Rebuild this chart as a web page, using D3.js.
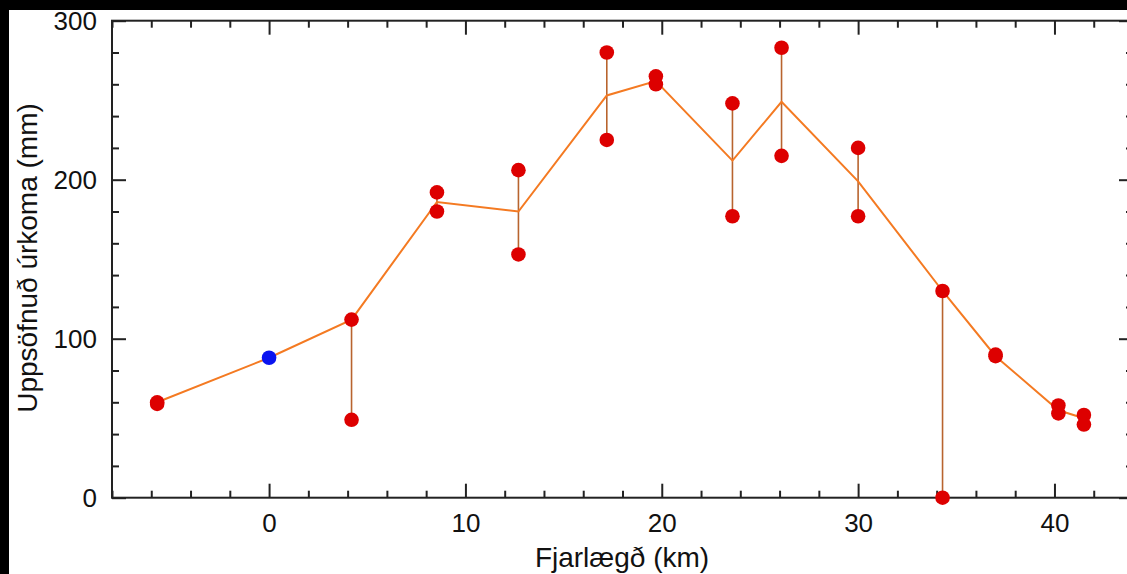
<!DOCTYPE html>
<html>
<head>
<meta charset="utf-8">
<script src="https://cdn.jsdelivr.net/npm/d3@7"></script>
<style>
  html, body { margin: 0; padding: 0; background: #000; }
  svg { display: block; }
  text { font-family: "Liberation Sans", Arial, sans-serif; fill: #111; }
</style>
</head>
<body>
<div id="chart"></div>
<script>
// distance along the profile (km) of each gauge station
var stationKm = [-5.7, 4.2, 8.55, 12.7, 17.2, 19.7, 23.6, 26.1, 30.0, 34.3, 37.0, 40.2, 41.5];
// two gauge readings per station (mm)
var gaugeHigh = [60, 112, 192, 206, 280, 265, 248, 283, 220, 130, 90, 58, 52];
var gaugeLow = [59, 49, 180, 153, 225, 260, 177, 215, 177, 0, 89, 53, 46];
// value the profile line goes through at each station
var lineValue = [60, 112, 186, 180, 253, 262, 212, 249, 199, 130, 89, 55, 50];
// reference station (blue)
var refKm = 0, refValue = 88;

var xMajor = [0, 10, 20, 30, 40];
var yMajor = [0, 100, 200, 300];

var W = 1127, H = 574;
var svg = d3.select("#chart").append("svg")
    .attr("width", W)
    .attr("height", H);

svg.append("rect")
    .attr("x", 9).attr("y", 10)
    .attr("width", W - 9).attr("height", H - 10)
    .attr("fill", "#fff");

var x = d3.scaleLinear().domain([-8, 44]).range([112, 1133]);
var y = d3.scaleLinear().domain([0, 300]).range([497.7, 20.7]);

var xMinor = d3.range(-8, 44.1, 2).filter(function (d) { return d % 10 !== 0; });
var yMinor = d3.range(0, 300.1, 20).filter(function (d) { return d % 100 !== 0; });

function tickStyle(g) {
    g.select(".domain").remove();
    g.selectAll(".tick line").attr("stroke", "#222").attr("stroke-width", 2);
    g.selectAll(".tick text").attr("font-size", 26).attr("fill", "#111");
}

// bottom
svg.append("g").attr("transform", "translate(0," + y(0) + ")")
    .call(d3.axisBottom(x).tickValues(xMajor).tickSize(-14).tickPadding(0).tickFormat(d3.format("d")))
    .call(tickStyle)
    .selectAll(".tick text").attr("y", 34).attr("dy", 0);
svg.append("g").attr("transform", "translate(0," + y(0) + ")")
    .call(d3.axisBottom(x).tickValues(xMinor).tickSize(-7).tickFormat(""))
    .call(tickStyle);
// top
svg.append("g").attr("transform", "translate(0," + y(300) + ")")
    .call(d3.axisTop(x).tickValues(xMajor).tickSize(-14).tickFormat(""))
    .call(tickStyle);
svg.append("g").attr("transform", "translate(0," + y(300) + ")")
    .call(d3.axisTop(x).tickValues(xMinor).tickSize(-7).tickFormat(""))
    .call(tickStyle);
// left
svg.append("g").attr("transform", "translate(" + x(-8) + ",0)")
    .call(d3.axisLeft(y).tickValues(yMajor).tickSize(-14).tickFormat(d3.format("d")))
    .call(tickStyle)
    .selectAll(".tick text").attr("x", -15).attr("dy", "0.35em");
svg.append("g").attr("transform", "translate(" + x(-8) + ",0)")
    .call(d3.axisLeft(y).tickValues(yMinor).tickSize(-7).tickFormat(""))
    .call(tickStyle);
// right
svg.append("g").attr("transform", "translate(" + x(44) + ",0)")
    .call(d3.axisRight(y).tickValues(yMajor).tickSize(-14).tickFormat(""))
    .call(tickStyle);
svg.append("g").attr("transform", "translate(" + x(44) + ",0)")
    .call(d3.axisRight(y).tickValues(yMinor).tickSize(-7).tickFormat(""))
    .call(tickStyle);

// frame
svg.append("rect")
    .attr("x", x(-8)).attr("y", y(300))
    .attr("width", x(44) - x(-8)).attr("height", y(0) - y(300))
    .attr("fill", "none").attr("stroke", "#222").attr("stroke-width", 2);

// vertical spread between the two readings
svg.append("g").selectAll("line")
    .data(stationKm)
    .enter().append("line")
    .attr("x1", function (d) { return x(d); })
    .attr("x2", function (d) { return x(d); })
    .attr("y1", function (d, i) { return y(gaugeHigh[i]); })
    .attr("y2", function (d, i) { return y(gaugeLow[i]); })
    .attr("stroke", "#b8642e")
    .attr("stroke-width", 1.6);

// profile line
var linePts = stationKm.map(function (d, i) { return [d, lineValue[i]]; });
linePts.splice(1, 0, [refKm, refValue]);
svg.append("path")
    .datum(linePts)
    .attr("fill", "none")
    .attr("stroke", "#f47a22")
    .attr("stroke-width", 2)
    .attr("d", d3.line()
        .x(function (d) { return x(d[0]); })
        .y(function (d) { return y(d[1]); }));

// gauge dots
var dots = [];
stationKm.forEach(function (d, i) {
    dots.push([d, gaugeHigh[i]]);
    dots.push([d, gaugeLow[i]]);
});
svg.append("g").selectAll("circle")
    .data(dots)
    .enter().append("circle")
    .attr("cx", function (d) { return x(d[0]); })
    .attr("cy", function (d) { return y(d[1]); })
    .attr("r", 7.3)
    .attr("fill", "#dd0000");

svg.append("circle")
    .attr("cx", x(refKm)).attr("cy", y(refValue))
    .attr("r", 7.3)
    .attr("fill", "#0a14f0");

// axis titles
svg.append("text")
    .attr("x", 622).attr("y", 567)
    .attr("text-anchor", "middle")
    .attr("font-size", 28)
    .text("Fjarlægð (km)");

svg.append("text")
    .attr("transform", "translate(37,258) rotate(-90)")
    .attr("text-anchor", "middle")
    .attr("font-size", 28)
    .text("Uppsöfnuð úrkoma (mm)");
</script>
</body>
</html>
